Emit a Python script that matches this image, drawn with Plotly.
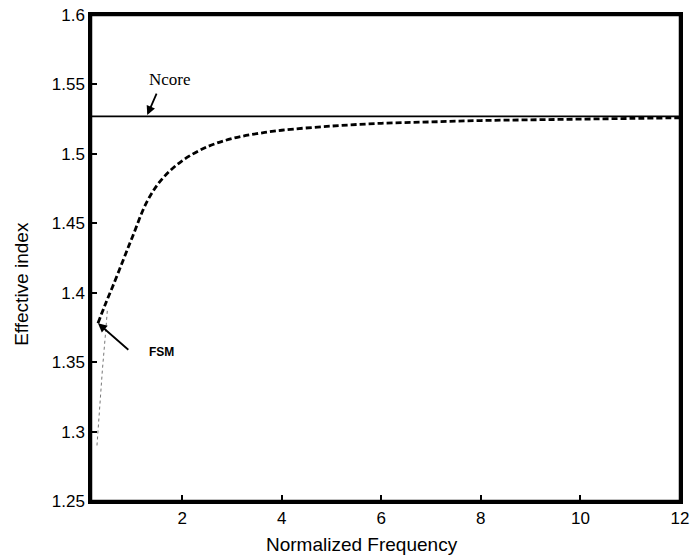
import plotly.graph_objects as go

# FSM effective index vs normalized frequency
freq = [0.31, 0.45, 0.6, 0.8, 1.0, 1.3, 1.6, 2.0, 2.5, 3.0, 3.5, 4.0, 5.0, 6.0, 7.0, 8.0, 9.0, 10.0, 11.0, 12.0]
n_fsm = [1.378, 1.391, 1.404, 1.422, 1.440, 1.466, 1.482, 1.495, 1.505, 1.511, 1.5145, 1.517, 1.520, 1.522, 1.523, 1.524, 1.5245, 1.525, 1.5255, 1.526]

# thin dotted branch near cutoff
freq_low = [0.29, 0.34, 0.40, 0.46, 0.50]
n_low = [1.290, 1.318, 1.345, 1.370, 1.388]

n_core = 1.527
x_range = [0.17, 12]
y_range = [1.25, 1.6]
x_ticks = [2, 4, 6, 8, 10, 12]
y_ticks = [1.25, 1.3, 1.35, 1.4, 1.45, 1.5, 1.55, 1.6]

fig = go.Figure()
fig.add_trace(go.Scatter(x=x_range, y=[n_core, n_core], mode="lines",
                         line=dict(color="black", width=1.8)))
fig.add_trace(go.Scatter(x=freq_low, y=n_low, mode="lines",
                         line=dict(color="#777", width=1, dash="dot")))
fig.add_trace(go.Scatter(x=freq, y=n_fsm, mode="lines",
                         line=dict(color="black", width=2.8, dash="6px,3px", shape="spline")))

# Ncore label and arrow
fig.add_annotation(x=1.3, y=n_core + 0.001, ax=1.5, ay=1.5445, axref="x", ayref="y",
                   text="", showarrow=True, arrowhead=2, arrowsize=1, arrowwidth=1.8,
                   arrowcolor="black")
fig.add_annotation(x=1.29, y=1.5535, text="Ncore", showarrow=False,
                   xanchor="left", font=dict(family="Liberation Serif", size=17, color="black"))
# FSM label and arrow
fig.add_annotation(x=0.31, y=1.378, ax=0.95, ay=1.358, axref="x", ayref="y",
                   text="", showarrow=True, arrowhead=2, arrowsize=1, arrowwidth=1.8,
                   arrowcolor="black")
fig.add_annotation(x=1.3, y=1.357, text="<b>FSM</b>", showarrow=False,
                   xanchor="left", font=dict(family="Liberation Sans", size=12, color="black"))

# axis titles (paper coords are relative to the plot area)
fig.add_annotation(x=0.46, y=-0.09, xref="paper", yref="paper",
                   xanchor="center", yanchor="middle",
                   text="Normalized Frequency", showarrow=False,
                   font=dict(family="Liberation Sans", size=19, color="black"))
fig.add_annotation(x=-0.117, y=0.447, xref="paper", yref="paper",
                   xanchor="center", yanchor="middle",
                   text="Effective index", showarrow=False, textangle=-90,
                   font=dict(family="Liberation Sans", size=19, color="black"))

# frame
fig.add_shape(type="rect", xref="paper", yref="paper", x0=0, y0=0, x1=1, y1=1,
              line=dict(color="black", width=2.5), layer="above")

axis_common = dict(showgrid=False, zeroline=False, showline=True, linecolor="black",
                   linewidth=2.5, mirror=True, ticks="inside", ticklen=6,
                   tickcolor="black", tickwidth=1.5, automargin=False,
                   tickfont=dict(family="Liberation Sans", size=17, color="black"))
fig.update_xaxes(range=x_range, tickvals=x_ticks, **axis_common)
fig.update_yaxes(range=y_range, tickvals=y_ticks,
                 ticktext=[f"{v:g}" for v in y_ticks], **axis_common)

fig.update_layout(width=693, height=559, showlegend=False,
                  plot_bgcolor="white", paper_bgcolor="white",
                  margin=dict(l=91, r=13, t=15, b=58))

fig.write_html("out.html", config={"displayModeBar": False},
               post_script="document.body.style.margin='0';")
